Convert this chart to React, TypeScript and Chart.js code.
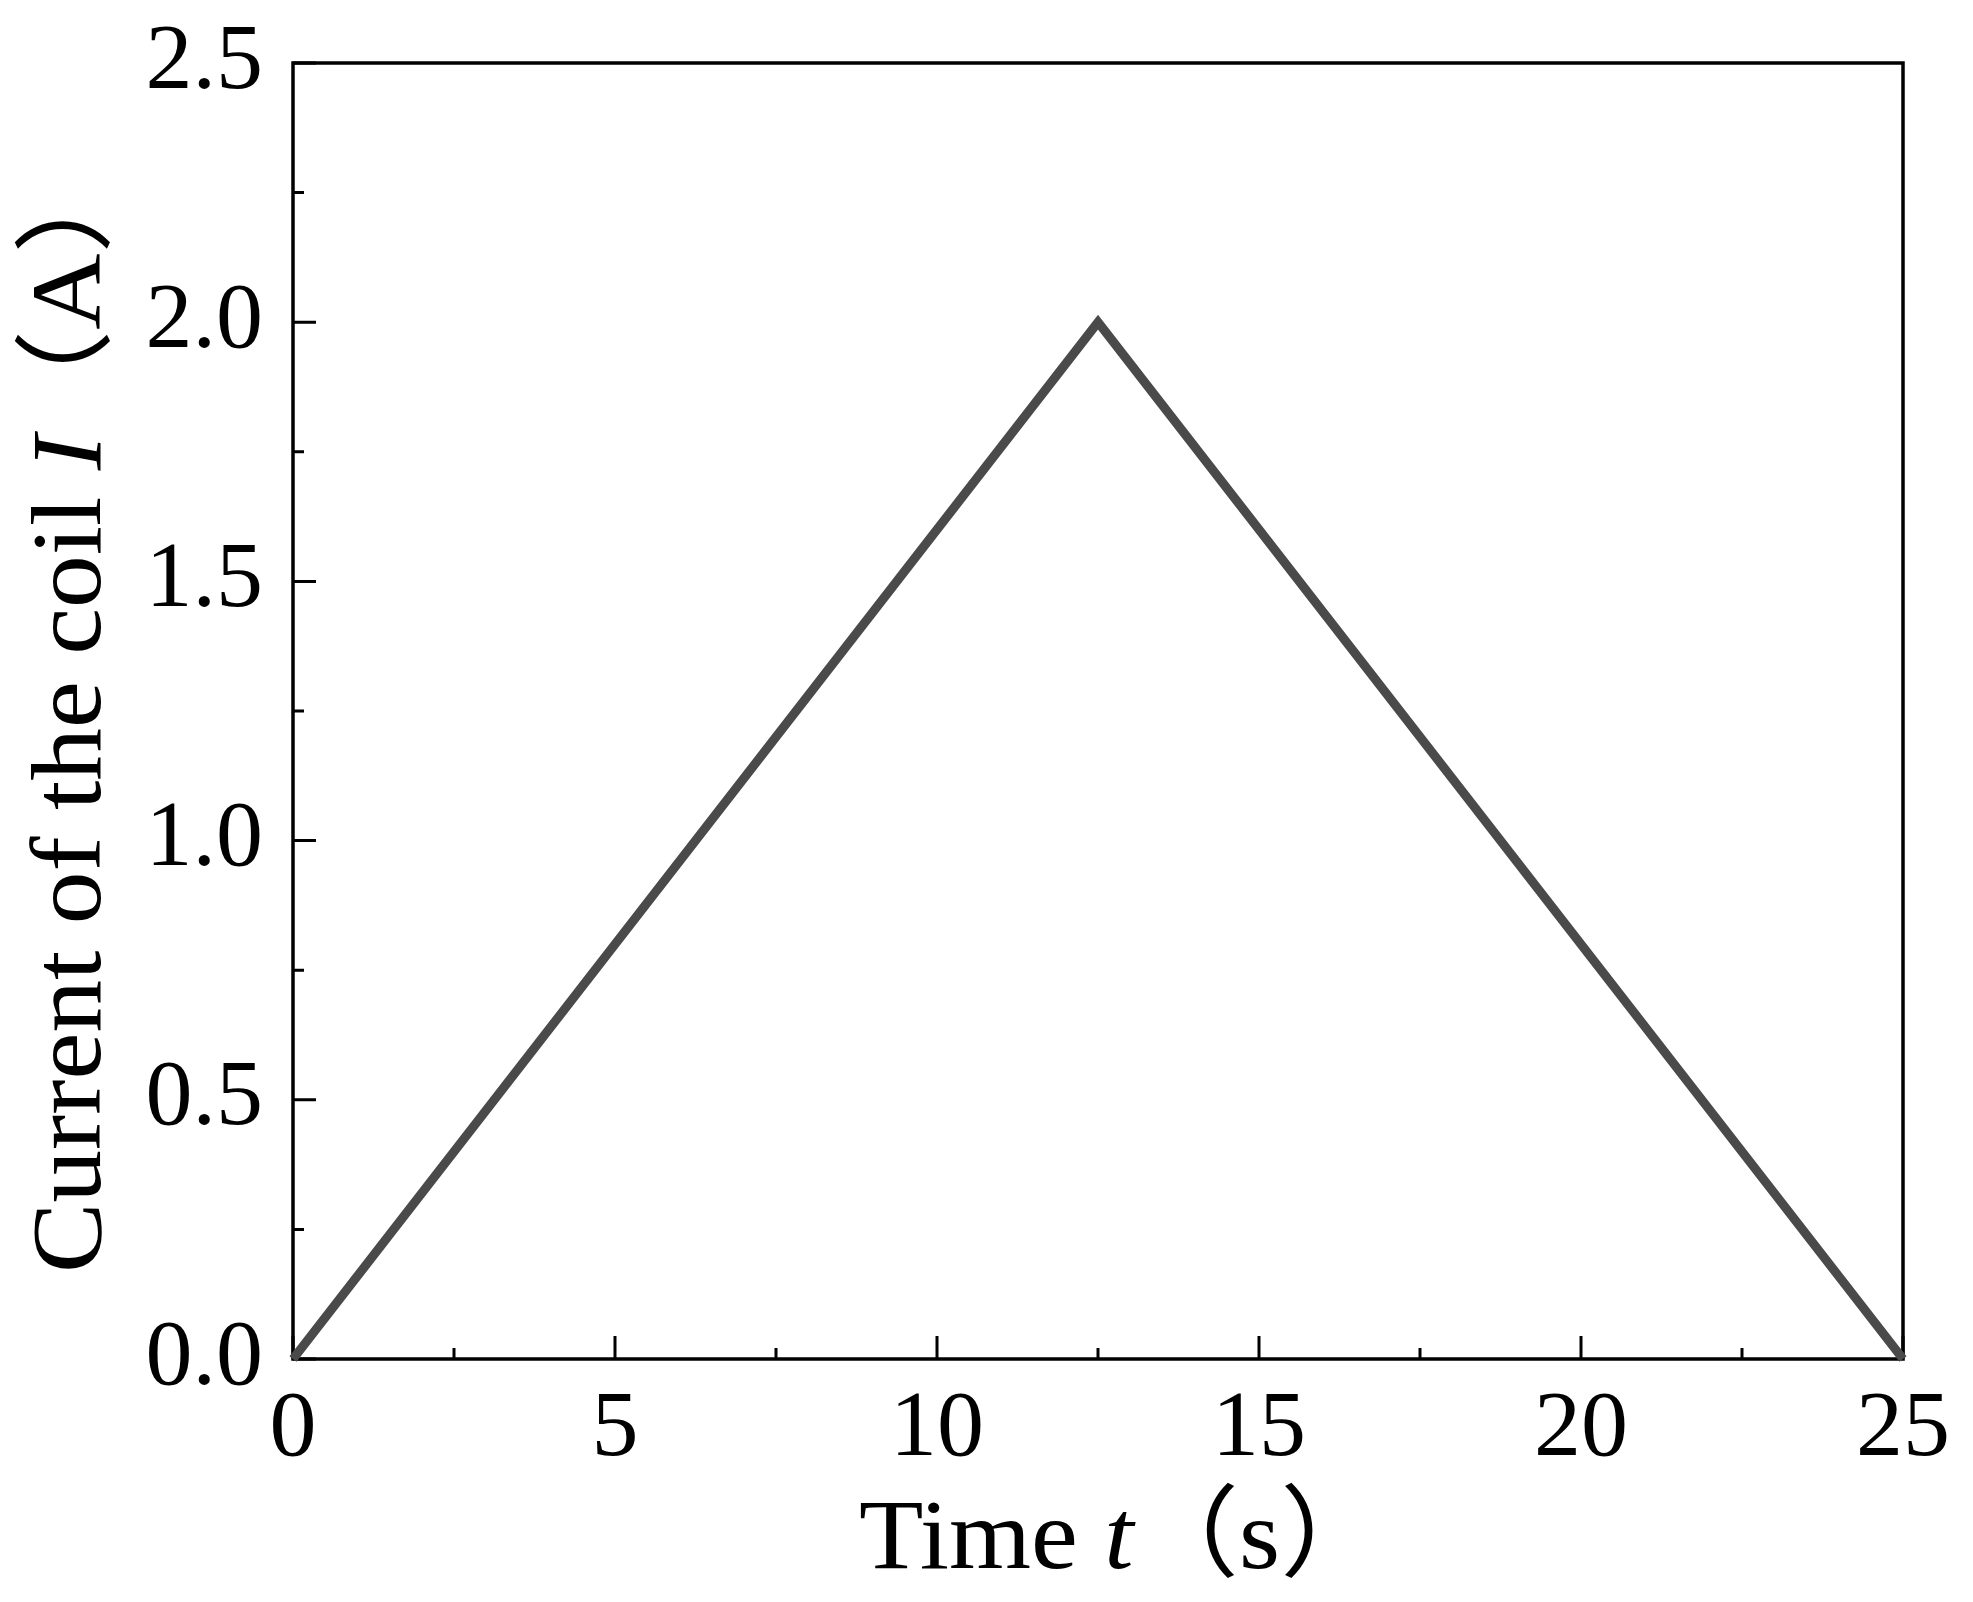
import React, { useEffect, useRef } from "react";
import { Chart, registerables } from "chart.js";

Chart.register(...registerables);

// ---- data ----
const timeS = [0, 12.5, 25];
const currentA = [0, 2.0, 0];
const xMajorTicks = [0, 5, 10, 15, 20, 25];
const yMajorTicks = [0, 0.5, 1.0, 1.5, 2.0, 2.5];
const xMinorTicks = [2.5, 7.5, 12.5, 17.5, 22.5];
const yMinorTicks = [0.25, 0.75, 1.25, 1.75, 2.25];
const xTitleParts: [string, boolean][] = [["Time ", false], ["t", true], ["（s）", false]];
const yTitleParts: [string, boolean][] = [["Current of the coil ", false], ["I", true], ["（A）", false]];

const W = 1973;
const H = 1602;
const FAMILY = '"Liberation Serif", "Times New Roman", "Noto Sans CJK SC", serif';

function drawParts(ctx: CanvasRenderingContext2D, parts: [string, boolean][], x: number, y: number, size: number) {
  let cx = x;
  for (const [txt, italic] of parts) {
    ctx.font = `${italic ? "italic " : ""}${size}px ${FAMILY}`;
    ctx.fillText(txt, cx, y);
    cx += ctx.measureText(txt).width;
  }
}

const framePlugin = {
  id: "frameTicks",
  beforeDatasetsDraw(chart: any) {
    const { ctx, chartArea: a, scales } = chart;
    ctx.save();
    ctx.strokeStyle = "#000";
    ctx.lineWidth = 3.5;
    ctx.strokeRect(a.left, a.top, a.right - a.left, a.bottom - a.top);
    ctx.lineWidth = 3;
    ctx.beginPath();
    const major = 23;
    const minor = 11;
    for (const v of xMajorTicks) {
      const px = scales.x.getPixelForValue(v);
      ctx.moveTo(px, a.bottom);
      ctx.lineTo(px, a.bottom - major);
    }
    for (const v of xMinorTicks) {
      const px = scales.x.getPixelForValue(v);
      ctx.moveTo(px, a.bottom);
      ctx.lineTo(px, a.bottom - minor);
    }
    for (const v of yMajorTicks) {
      const py = scales.y.getPixelForValue(v);
      ctx.moveTo(a.left, py);
      ctx.lineTo(a.left + major, py);
    }
    for (const v of yMinorTicks) {
      const py = scales.y.getPixelForValue(v);
      ctx.moveTo(a.left, py);
      ctx.lineTo(a.left + minor, py);
    }
    ctx.stroke();
    ctx.restore();
  },
  afterDraw(chart: any) {
    const { ctx, chartArea: a } = chart;
    ctx.save();
    ctx.fillStyle = "#000";
    ctx.textAlign = "left";
    ctx.textBaseline = "alphabetic";
    // x title
    ctx.save();
    ctx.translate(a.left + 566, a.bottom + 209);
    ctx.scale(1.055, 1);
    drawParts(ctx, xTitleParts, 0, 0, 100);
    ctx.restore();
    // y title (rotated)
    ctx.translate(a.left - 193, a.bottom - 86);
    ctx.rotate(-Math.PI / 2);
    ctx.scale(1.055, 1);
    drawParts(ctx, yTitleParts, 0, 0, 100);
    ctx.restore();
  },
};

export default function App() {
  const ref = useRef<HTMLCanvasElement | null>(null);
  useEffect(() => {
    if (!ref.current) return;
    const chart = new Chart(ref.current, {
      type: "scatter",
      data: {
        datasets: [
          {
            data: timeS.map((t, i) => ({ x: t, y: currentA[i] })),
            showLine: true,
            borderColor: "#4a4a4a",
            borderWidth: 9,
            pointRadius: 0,
            fill: false,
            tension: 0,
            clip: false as any,
          },
        ],
      },
      options: {
        responsive: false,
        animation: false,
        devicePixelRatio: 1,
        layout: { padding: { left: 0, top: 63, right: 70, bottom: 0 } },
        plugins: { legend: { display: false }, tooltip: { enabled: false } },
        scales: {
          x: {
            type: "linear",
            min: 0,
            max: 25,
            afterFit: (s: any) => {
              s.height = H - 1359;
              s.paddingLeft = 0;
              s.paddingRight = 0;
            },
            afterBuildTicks: (s: any) => {
              s.ticks = xMajorTicks.map((v) => ({ value: v }));
            },
            grid: { display: false, drawTicks: false },
            border: { display: false },
            ticks: {
              autoSkip: false,
              maxRotation: 0,
              padding: 15,
              color: "#000",
              font: { family: FAMILY, size: 94, lineHeight: 1.2 },
              callback: (v: any) => String(v),
            },
          },
          y: {
            type: "linear",
            min: 0,
            max: 2.5,
            afterFit: (s: any) => {
              s.width = 293;
              s.paddingTop = 0;
              s.paddingBottom = 0;
            },
            afterBuildTicks: (s: any) => {
              s.ticks = yMajorTicks.map((v) => ({ value: v }));
            },
            grid: { display: false, drawTicks: false },
            border: { display: false },
            ticks: {
              autoSkip: false,
              padding: 30,
              color: "#000",
              font: { family: FAMILY, size: 94, lineHeight: 1.2 },
              callback: (v: any) => Number(v).toFixed(1),
            },
          },
        },
      },
      plugins: [framePlugin],
    });
    return () => chart.destroy();
  }, []);
  return (
    <div style={{ position: "absolute", left: 0, top: 0, width: W, height: H, background: "#fff" }}>
      <canvas ref={ref} width={W} height={H} style={{ width: W, height: H, display: "block" }} />
    </div>
  );
}
